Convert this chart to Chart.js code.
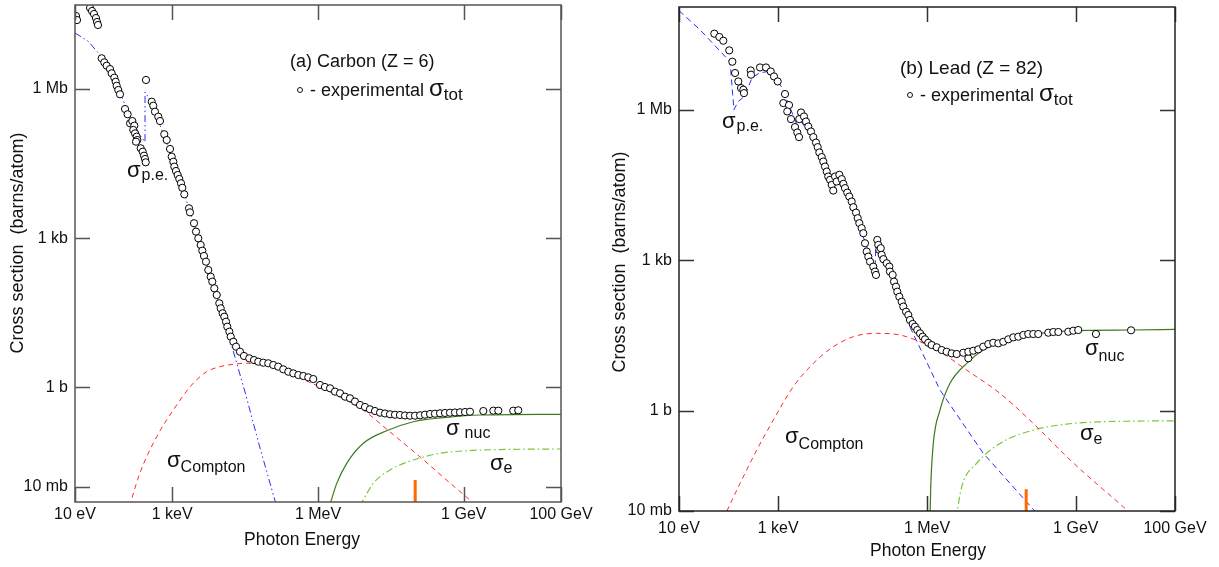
<!DOCTYPE html>
<html>
<head>
<meta charset="utf-8">
<script src="https://cdn.jsdelivr.net/npm/chart.js@4.4.1/dist/chart.umd.min.js"></script>
<style>
  html, body { margin: 0; padding: 0; background: #fff; }
  #wrap { position: relative; width: 1219px; height: 567px; }
  #leftBox { position: absolute; left: 0; top: 0; }
  #rightBox { position: absolute; left: 600px; top: 0; }
</style>
</head>
<body>
<div id="wrap">
  <div id="leftBox"><canvas id="carbonChart" width="600" height="567"></canvas></div>
  <div id="rightBox"><canvas id="leadChart" width="619" height="567"></canvas></div>
</div>
<script>
// photon energies in eV, cross sections in barns/atom

// tick values and labels
const energyDecades = [1e1, 1e2, 1e3, 1e4, 1e5, 1e6, 1e7, 1e8, 1e9, 1e10, 1e11];
const sigmaDecades = [1e-2, 1e-1, 1, 1e1, 1e2, 1e3, 1e4, 1e5, 1e6, 1e7];
const energyLabels = { 10: '10 eV', 1000: '1 keV', 1000000: '1 MeV', 1000000000: '1 GeV', 100000000000: '100 GeV' };
const sigmaLabels = { 0.01: '10 mb', 1: '1 b', 1000: '1 kb', 1000000: '1 Mb' };

// (a) Carbon - experimental total cross section
const carbonExpE = [10.5, 11.0, 20.4, 22.4, 24.6, 27.0, 28.4, 29.7, 35.4, 40.1, 44.9, 52.5, 56.9, 64.4, 68.8, 72.1, 77.8, 84.3, 107, 121, 136, 151, 166, 158, 172, 186, 192, 180, 225, 247, 263, 276, 285, 289, 379, 408, 443, 518, 561, 687, 771, 902, 977, 1055, 1105, 1197, 1297, 1400, 1517, 1614, 1775, 2218, 2323, 2810, 3090, 3445, 3855, 4160, 4505, 4955, 5530, 6195, 6685, 7350, 8240, 9310, 9950, 1.09e4, 1.18e4, 1.28e4, 1.36e4, 1.50e4, 1.60e4, 1.81e4, 2.06e4, 2.48e4, 3.00e4, 3.85e4, 4.82e4, 5.91e4, 7.49e4, 9.48e4, 1.20e5, 1.52e5, 1.93e5, 2.45e5, 3.10e5, 3.94e5, 4.99e5, 6.31e5, 8.00e5, 1.10e6, 1.39e6, 1.77e6, 2.24e6, 2.84e6, 3.60e6, 4.55e6, 5.77e6, 7.31e6, 9.27e6, 1.17e7, 1.49e7, 1.89e7, 2.39e7, 3.03e7, 3.84e7, 4.86e7, 6.17e7, 7.81e7, 9.91e7, 1.26e8, 1.59e8, 2.02e8, 2.55e8, 3.24e8, 4.10e8, 5.20e8, 6.59e8, 8.36e8, 1.06e9, 1.34e9, 2.52e9, 4.05e9, 5.13e9, 1.04e10, 1.32e10];
const carbonExpSigma = [2.94e7, 2.44e7, 4.27e7, 3.71e7, 3.23e7, 2.68e7, 2.23e7, 1.94e7, 4.15e6, 3.44e6, 2.94e6, 2.52e6, 2.07e6, 1.69e6, 1.40e6, 1.16e6, 9.55e5, 7.82e5, 3.96e5, 3.10e5, 2.04e5, 2.27e5, 1.83e5, 1.50e5, 1.28e5, 1.10e5, 9.42e4, 8.71e4, 6.41e4, 5.47e4, 4.55e4, 3.91e4, 3.35e4, 1.52e6, 5.55e5, 4.61e5, 3.49e5, 2.77e5, 2.27e5, 1.23e5, 9.42e4, 6.21e4, 4.35e4, 3.44e4, 2.74e4, 2.24e4, 1.86e4, 1.55e4, 1.27e4, 1.03e4, 7600, 3980, 3300, 1990, 1350, 991, 727, 558, 437, 335, 228, 167, 133, 97.7, 71.6, 48.8, 38.7, 30.7, 26.2, 20.8, 16.5, 13.1, 10.4, 8.22, 6.53, 5.18, 4.25, 3.81, 3.52, 3.26, 3.11, 3.03, 2.80, 2.59, 2.29, 2.05, 1.90, 1.76, 1.68, 1.58, 1.46, 1.11, 1.01, 0.950, 0.815, 0.754, 0.645, 0.598, 0.515, 0.439, 0.400, 0.359, 0.332, 0.307, 0.296, 0.285, 0.279, 0.276, 0.270, 0.267, 0.267, 0.272, 0.280, 0.289, 0.293, 0.299, 0.303, 0.307, 0.310, 0.313, 0.317, 0.321, 0.332, 0.337, 0.337, 0.337, 0.343];

// (a) Carbon - partial cross sections
const carbonPeE = [10, 18.5, 32.7, 52.5, 84.3, 136, 217, 276, 276, 349, 589, 1143, 2113, 3733, 7600, 1.55e4, 3.15e4, 6.41e4, 1.58e5];
const carbonPeSigma = [1.34e7, 9.25e6, 4.83e6, 2.41e6, 8.71e5, 2.61e5, 1.19e5, 8.59e4, 8.71e5, 6.01e5, 1.64e5, 2.96e4, 4630, 796, 90.4, 8.91, 0.800, 0.0598, 0.0027];
const carbonComptonE = [117, 217, 480, 1055, 2518, 5130, 9640, 1.81e4, 3.41e4, 1.03e5, 4.27e5, 1.77e6, 8.43e6, 3.03e7, 1.26e8, 5.20e8, 1.48e9, 1.78e9];
const carbonComptonSigma = [0.0027, 0.0188, 0.101, 0.348, 1.11, 2.05, 2.59, 2.89, 3.03, 2.67, 1.53, 0.800, 0.348, 0.126, 0.0395, 0.0118, 0.0049, 0.0041];
const carbonNucE = [1.73e6, 2.43e6, 3.90e6, 8.55e6, 2.59e7, 9.14e7, 4.45e8, 2.15e9, 1e11];
const carbonNucSigma = [0.0041, 0.0116, 0.0294, 0.0743, 0.133, 0.202, 0.248, 0.276, 0.285];
const carbonElecE = [7.31e6, 1.37e7, 3.03e7, 9.14e7, 3.24e8, 1.15e9, 1.04e10, 1e11];
const carbonElecSigma = [0.0041, 0.0116, 0.0216, 0.0343, 0.0468, 0.0527, 0.0562, 0.0571];

// (b) Lead - experimental total cross section
const leadExpE = [51.5, 65.0, 78.2, 103, 119, 135, 157, 178, 198, 204, 279, 283, 430, 568, 706, 823, 977, 1371, 1268, 1652, 1524, 1811, 2183, 2427, 2626, 2661, 2884, 3311, 3631, 4046, 4581, 5105, 5781, 6252, 6745, 7535, 8110, 8790, 9510, 1.02e4, 1.11e4, 1.20e4, 1.29e4, 1.40e4, 1.51e4, 1.71e4, 1.91e4, 2.06e4, 2.22e4, 2.47e4, 2.71e4, 3.03e4, 3.27e4, 3.71e4, 4.01e4, 4.32e4, 4.82e4, 5.20e4, 5.62e4, 6.08e4, 6.56e4, 7.10e4, 8.26e4, 8.95e4, 9.37e4, 9.95e4, 1.04e5, 1.09e5, 1.17e5, 1.22e5, 1.32e5, 1.54e5, 1.74e5, 1.79e5, 2.03e5, 2.16e5, 2.37e5, 2.52e5, 2.77e5, 3.09e5, 3.33e5, 3.78e5, 4.20e5, 4.54e5, 5.15e5, 5.73e5, 6.37e5, 7.23e5, 8.18e5, 9.12e5, 1.06e6, 1.24e6, 1.57e6, 1.98e6, 2.49e6, 3.15e6, 3.97e6, 5.40e6, 6.81e6, 6.81e6, 8.57e6, 1.08e7, 1.36e7, 1.72e7, 2.17e7, 2.74e7, 3.45e7, 4.36e7, 5.50e7, 6.93e7, 8.75e7, 1.10e8, 1.39e8, 1.75e8, 2.79e8, 3.52e8, 4.44e8, 7.06e8, 8.91e8, 1.12e9, 2.55e9, 1.30e10];
const leadExpSigma = [3.29e7, 2.83e7, 2.38e7, 1.53e7, 9.08e6, 5.41e6, 3.67e6, 2.71e6, 2.51e6, 2.15e6, 6.08e6, 5.00e6, 6.98e6, 6.98e6, 5.81e6, 4.62e6, 3.67e6, 2.06e6, 1.36e6, 1.24e6, 9.25e5, 6.52e5, 4.52e5, 3.52e5, 2.85e5, 6.52e5, 8.83e5, 7.35e5, 5.83e5, 4.64e5, 3.69e5, 2.85e5, 2.22e5, 1.80e5, 1.41e5, 1.14e5, 9.29e4, 7.38e4, 5.86e4, 4.67e4, 4.01e4, 3.18e4, 2.45e4, 4.67e4, 3.71e4, 5.05e4, 4.14e4, 3.33e4, 2.74e4, 2.23e4, 1.86e4, 1.48e4, 1.14e4, 8910, 6890, 5480, 4360, 3460, 2180, 1490, 1180, 937, 745, 593, 509, 2540, 2020, 1610, 1740, 1280, 1050, 871, 745, 593, 509, 374, 297, 236, 187, 149, 119, 94.2, 80.9, 64.3, 53.6, 47.3, 40.6, 34.9, 29.9, 26.5, 22.6, 20.4, 18.4, 16.2, 15.0, 13.9, 13.5, 14.3, 11.1, 15.0, 15.7, 16.7, 18.9, 21.3, 22.6, 22.0, 23.7, 26.5, 29.0, 29.9, 32.3, 33.8, 33.8, 33.8, 35.9, 37.1, 37.1, 37.6, 39.4, 40.6, 33.8, 40.1];

// (b) Lead - partial cross sections
const leadPeE = [10, 26.5, 107, 128, 155, 214, 297, 430, 594, 823, 1194, 1729, 2393, 2506, 5520, 1.27e4, 1.33e4, 2.81e4, 8.95e4, 9.37e4, 1.79e5, 4.54e5, 1.83e6, 1.35e7, 1.50e8, 1.90e8];
const leadPeSigma = [9.46e7, 3.95e7, 9.08e6, 1.00e6, 1.44e6, 1.90e6, 4.36e6, 5.48e6, 5.73e6, 4.78e6, 2.75e6, 1.10e6, 5.02e5, 7.24e5, 2.30e5, 3.04e4, 4.82e4, 1.60e4, 640, 2540, 640, 46.7, 2.58, 0.143, 0.0099, 0.0072];
const leadComptonE = [77.1, 170, 369, 796, 2010, 5110, 1.29e4, 3.27e4, 9.68e4, 2.86e5, 7.23e5, 1.83e6, 6.31e6, 2.96e7, 1.39e8, 6.56e8, 3.08e9, 9.08e9, 1.24e10];
const leadComptonSigma = [0.00686, 0.0354, 0.164, 0.649, 3.00, 8.79, 18.8, 29.9, 34.9, 32.3, 23.7, 15.0, 6.46, 2.21, 0.558, 0.121, 0.0304, 0.0121, 0.00904];
const leadNucE = [1.15e6, 1.19e6, 1.34e6, 1.83e6, 2.91e6, 6.31e6, 1.36e7, 4.05e7, 1.90e8, 8.91e8, 1.44e10, 1e11];
const leadNucSigma = [0.00718, 0.0303, 0.222, 1.03, 3.51, 8.79, 16.2, 25.6, 34.9, 39.4, 40.6, 42.0];
const leadElecE = [3.85e6, 5.01e6, 1.00e7, 2.96e7, 1.39e8, 6.56e8, 3.08e9, 1.44e10, 1e11];
const leadElecSigma = [0.00718, 0.0303, 0.0887, 0.222, 0.410, 0.541, 0.600, 0.619, 0.628];

// orange marker at 100 MeV
const markerE = 1e8;
const carbonMarkerSigma = 0.0136;
const leadMarkerSigma = 0.0272;

// axis ranges
const energyMin = 10, energyMax = 1e11;
const carbonSigmaMin = 0.0049, carbonSigmaMax = 4.9e7;
const leadSigmaMin = 0.01, leadSigmaMax = 1.12e8;

const FONT = '"Liberation Sans", Arial, Helvetica, sans-serif';
Chart.defaults.font.family = FONT;
Chart.defaults.color = '#111';

function pts(xs, ys) {
  return xs.map((x, i) => ({ x: x, y: ys[i] }));
}

// frame with inward ticks on all four sides
const frameTicks = {
  id: 'frameTicks',
  afterDatasetsDraw(chart, args, opts) {
    const { ctx, chartArea: a, scales: { x, y } } = chart;
    const len = 15;
    ctx.save();
    ctx.strokeStyle = opts.tickColor;
    ctx.lineWidth = 1.5;
    ctx.beginPath();
    x.ticks.forEach(t => {
      const px = Math.round(x.getPixelForValue(t.value)) + 0.5;
      ctx.moveTo(px, a.bottom); ctx.lineTo(px, a.bottom - len);
      ctx.moveTo(px, a.top); ctx.lineTo(px, a.top + len);
    });
    y.ticks.forEach(t => {
      const py = Math.round(y.getPixelForValue(t.value)) + 0.5;
      ctx.moveTo(a.left, py); ctx.lineTo(a.left + len, py);
      ctx.moveTo(a.right, py); ctx.lineTo(a.right - len, py);
    });
    ctx.stroke();
    ctx.strokeStyle = opts.frameColor;
    ctx.lineWidth = 1.5;
    ctx.strokeRect(a.left, a.top, a.right - a.left, a.bottom - a.top);
    ctx.restore();
  }
};

function sigma(ctx, x, y, sub, dx, dy, big, small) {
  ctx.font = (big || 22) + 'px ' + FONT;
  ctx.fillText('σ', x, y);
  const w = ctx.measureText('σ').width;
  ctx.font = (small || 16) + 'px ' + FONT;
  ctx.fillText(sub, x + w + dx, y + dy);
}

// titles, labels and legend text
const notes = {
  id: 'notes',
  afterDraw(chart, args, o) {
    const ctx = chart.ctx;
    ctx.save();
    ctx.fillStyle = '#111';
    ctx.textAlign = 'left';
    ctx.textBaseline = 'alphabetic';
    ctx.font = o.titleSize + 'px ' + FONT;
    ctx.fillText(o.title, o.titleX, o.titleY);

    ctx.beginPath();
    ctx.strokeStyle = '#111';
    ctx.lineWidth = 1;
    ctx.arc(o.legX, o.legY, 2.5, 0, Math.PI * 2);
    ctx.stroke();
    ctx.font = '18px ' + FONT;
    ctx.fillText('- experimental', o.legX + 10, o.legY + 6);
    const tw = ctx.measureText('- experimental ').width;
    sigma(ctx, o.legX + 10 + tw, o.legY + 6, 'tot', 0, 4, 24, 17);

    o.sigmas.forEach(s => sigma(ctx, s[0], s[1], s[2], s[3], s[4]));

    ctx.font = '17.5px ' + FONT;
    ctx.textAlign = 'center';
    ctx.textBaseline = 'middle';
    ctx.fillText('Photon Energy', o.xTitle[0], o.xTitle[1]);
    ctx.font = '18px ' + FONT;
    ctx.translate(o.yTitle[0], o.yTitle[1]);
    ctx.rotate(-Math.PI / 2);
    ctx.fillText('Cross section  (barns/atom)', 0, 0);
    ctx.restore();
  }
};

function makeChart(id, p) {
  new Chart(document.getElementById(id), {
    type: 'line',
    data: {
      datasets: [
        {
          label: 'experimental',
          data: pts(p.expE, p.expS),
          showLine: false,
          pointRadius: 3.6,
          pointBorderWidth: 1,
          pointBorderColor: '#000',
          pointBackgroundColor: '#fff'
        },
        {
          label: 'marker',
          data: [{ x: markerE, y: p.yMin * 0.5 }, { x: markerE, y: p.markerS }],
          borderColor: '#ff6a00',
          borderWidth: 3,
          borderCapStyle: 'butt',
          pointRadius: 0
        },
        {
          label: 'p.e.',
          data: pts(p.peE, p.peS),
          borderColor: '#2b2bff',
          borderWidth: 1,
          borderDash: p.peDash,
          pointRadius: 0,
          tension: 0
        },
        {
          label: 'Compton',
          data: pts(p.comE, p.comS),
          borderColor: '#ff2a2a',
          borderWidth: 1,
          borderDash: [5, 4],
          pointRadius: 0,
          cubicInterpolationMode: 'monotone'
        },
        {
          label: 'nuc',
          data: pts(p.nucE, p.nucS),
          borderColor: '#3b7a1f',
          borderWidth: 1.2,
          pointRadius: 0,
          cubicInterpolationMode: 'monotone'
        },
        {
          label: 'e',
          data: pts(p.elE, p.elS),
          borderColor: '#74c83a',
          borderWidth: 1.2,
          borderDash: [7, 3, 1.5, 3],
          pointRadius: 0,
          cubicInterpolationMode: 'monotone'
        }
      ]
    },
    options: {
      responsive: false,
      animation: false,
      events: [],
      layout: { padding: { top: p.top, right: p.right, left: 0, bottom: 0 } },
      scales: {
        x: {
          type: 'logarithmic',
          min: energyMin,
          max: energyMax,
          grid: { display: false, drawTicks: false },
          border: { display: false },
          afterBuildTicks: s => { s.ticks = energyDecades.map(v => ({ value: v })); },
          afterFit: s => { s.height = p.xHeight; s.paddingLeft = 0; s.paddingRight = 0; },
          ticks: {
            autoSkip: false,
            maxRotation: 0,
            padding: p.xPad,
            font: { size: 16 },
            color: '#111',
            callback: v => energyLabels[v] ?? null
          }
        },
        y: {
          type: 'logarithmic',
          min: p.yMin,
          max: p.yMax,
          grid: { display: false, drawTicks: false },
          border: { display: false },
          afterBuildTicks: s => { s.ticks = sigmaDecades.map(v => ({ value: v })); },
          afterFit: s => { s.width = p.yWidth; s.paddingTop = 0; s.paddingBottom = 0; },
          ticks: {
            autoSkip: false,
            padding: 7,
            font: { size: 16 },
            color: '#111',
            callback: v => sigmaLabels[v] ?? null
          }
        }
      },
      plugins: {
        legend: { display: false },
        tooltip: { enabled: false },
        frameTicks: { tickColor: p.tickColor, frameColor: p.frameColor },
        notes: p.notes
      }
    },
    plugins: [frameTicks, notes]
  });
}

makeChart('carbonChart', {
  expE: carbonExpE, expS: carbonExpSigma,
  peE: carbonPeE, peS: carbonPeSigma, peDash: [7, 3, 1.5, 3, 1.5, 3],
  comE: carbonComptonE, comS: carbonComptonSigma,
  nucE: carbonNucE, nucS: carbonNucSigma,
  elE: carbonElecE, elS: carbonElecSigma,
  markerS: carbonMarkerSigma,
  yMin: carbonSigmaMin, yMax: carbonSigmaMax,
  top: 5, right: 39, xHeight: 65, yWidth: 75, xPad: 3,
  tickColor: '#555', frameColor: '#555',
  notes: {
    title: '(a) Carbon (Z = 6)', titleSize: 18, titleX: 290, titleY: 67,
    legX: 300, legY: 90,
    sigmas: [[127, 177, 'p.e.', 1, 3], [167, 467, 'Compton', 0, 5], [446, 435, 'nuc', 5, 3], [490, 470, 'e', 0, 3]],
    xTitle: [302, 540], yTitle: [18, 243]
  }
});

makeChart('leadChart', {
  expE: leadExpE, expS: leadExpSigma,
  peE: leadPeE, peS: leadPeSigma, peDash: [6, 4],
  comE: leadComptonE, comS: leadComptonSigma,
  nucE: leadNucE, nucS: leadNucSigma,
  elE: leadElecE, elS: leadElecSigma,
  markerS: leadMarkerSigma,
  yMin: leadSigmaMin, yMax: leadSigmaMax,
  top: 7, right: 44, xHeight: 56, yWidth: 79, xPad: 8,
  tickColor: '#333', frameColor: '#222',
  notes: {
    title: '(b) Lead (Z = 82)', titleSize: 19, titleX: 300, titleY: 74,
    legX: 310, legY: 95,
    sigmas: [[122, 128, 'p.e.', 1, 3], [185, 443, 'Compton', 0, 6], [485, 355, 'nuc', 0, 6], [480, 440, 'e', 0, 4]],
    xTitle: [328, 551], yTitle: [20, 262]
  }
});
</script>
</body>
</html>
